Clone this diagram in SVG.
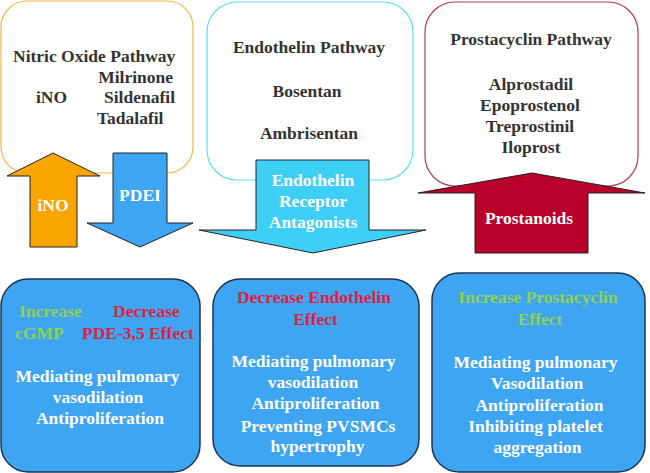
<svg xmlns="http://www.w3.org/2000/svg" width="650" height="473" viewBox="0 0 650 473">
<style>
text{font-family:"Liberation Serif","Times New Roman",serif;font-weight:bold;font-size:17.5px}
.dk{fill:#333333}
.wh{fill:#ffffff}
.gr{fill:#92D050}
.rd{fill:#E0203F}
.m{text-anchor:middle}
.e{text-anchor:end}
.top{fill:#ffffff;stroke-width:1.2}
.bot{fill:#3DA5F2;stroke:#1E3550;stroke-width:1.5}
.arr{stroke:#222222;stroke-width:1}
</style>
<rect width="650" height="473" fill="#ffffff"/>
<g id="node-nitric">
<rect class="top" x="1" y="1" width="192" height="172" rx="26" stroke="#F5B54A"/>
<text class="dk" x="13" y="62">Nitric Oxide Pathway</text>
<text class="dk e" x="173" y="83">Milrinone</text>
<text class="dk" x="36" y="103">iNO</text>
<text class="dk e" x="175" y="103">Sildenafil</text>
<text class="dk" x="97" y="124">Tadalafil</text>
</g>
<g id="node-endothelin">
<rect class="top" x="207" y="2" width="206" height="178" rx="30" stroke="#5FE0F2"/>
<text class="dk m" x="309" y="53">Endothelin Pathway</text>
<text class="dk m" x="307" y="97">Bosentan</text>
<text class="dk m" x="309" y="139">Ambrisentan</text>
</g>
<g id="node-prostacyclin">
<rect class="top" x="425" y="2" width="213" height="184" rx="30" stroke="#B43A52"/>
<text class="dk m" x="531" y="45">Prostacyclin Pathway</text>
<text class="dk m" x="531" y="90">Alprostadil</text>
<text class="dk m" x="530" y="111">Epoprostenol</text>
<text class="dk m" x="530" y="132">Treprostinil</text>
<text class="dk m" x="531" y="153">Iloprost</text>
</g>
<g id="connectors">
<g id="arrow-ino">
<polygon class="arr" fill="#F8A500" points="53,153 100,176 77,176 77,247 30,247 30,176 7,176"/>
<text class="wh m" x="53" y="211">iNO</text>
</g>
<g id="arrow-pdei">
<polygon class="arr" fill="#3DA5F2" points="113,153 167,153 167,223 193,223 140,247 87,223 113,223"/>
<text class="wh m" x="140" y="201">PDEI</text>
</g>
<g id="arrow-era">
<polygon class="arr" fill="#3DCFF5" points="256,160 369,160 369,230 426,230 313,253 199,230 256,230"/>
<text class="wh m" x="313" y="186">Endothelin</text>
<text class="wh m" x="313" y="207">Receptor</text>
<text class="wh m" x="313" y="228">Antagonists</text>
</g>
<g id="arrow-prostanoids">
<polygon class="arr" fill="#B8002A" points="532,173 645,193 588,193 588,253 475,253 475,193 418,193"/>
<text class="wh m" x="529" y="224">Prostanoids</text>
</g>
</g>
<g id="node-effect-no">
<rect class="bot" x="1" y="279" width="199" height="193" rx="27"/>
<text class="gr" x="19" y="317">Increase</text>
<text class="rd" x="113" y="317">Decrease</text>
<text class="gr" x="15" y="339">cGMP</text>
<text class="rd" x="82" y="339">PDE-3,5 Effect</text>
<text class="wh m" x="97.5" y="382">Mediating pulmonary</text>
<text class="wh m" x="98" y="403">vasodilation</text>
<text class="wh m" x="100" y="424">Antiproliferation</text>
</g>
<g id="node-effect-et">
<rect class="bot" x="213" y="279" width="206" height="187" rx="27"/>
<text class="rd m" x="314" y="303">Decrease Endothelin</text>
<text class="rd m" x="315.5" y="325">Effect</text>
<text class="wh m" x="313.5" y="367">Mediating pulmonary</text>
<text class="wh m" x="313" y="388">vasodilation</text>
<text class="wh m" x="315.5" y="409">Antiproliferation</text>
<text class="wh m" x="318" y="432">Preventing PVSMCs</text>
<text class="wh m" x="317.5" y="452">hypertrophy</text>
</g>
<g id="node-effect-pc">
<rect class="bot" x="432" y="273" width="213" height="199" rx="27"/>
<text class="gr m" x="538" y="303">Increase Prostacyclin</text>
<text class="gr m" x="540" y="325">Effect</text>
<text class="wh m" x="535.5" y="368">Mediating pulmonary</text>
<text class="wh m" x="537" y="389">Vasodilation</text>
<text class="wh m" x="539.5" y="411">Antiproliferation</text>
<text class="wh m" x="535.5" y="432">Inhibiting platelet</text>
<text class="wh m" x="537.5" y="453">aggregation</text>
</g>
</svg>
